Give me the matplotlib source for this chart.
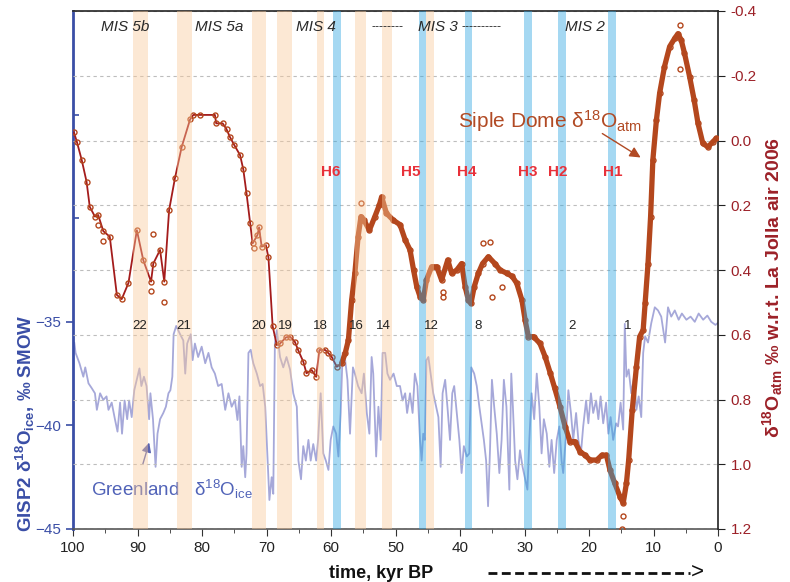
import matplotlib
matplotlib.use("Agg")
import matplotlib.pyplot as plt
import numpy as np
from matplotlib.lines import Line2D

plt.rcParams['font.family'] = ['Liberation Sans', 'DejaVu Sans']
plt.rcParams['mathtext.fontset'] = 'custom'
plt.rcParams['mathtext.rm'] = 'Liberation Sans'
plt.rcParams['mathtext.it'] = 'Liberation Sans:italic'
plt.rcParams['mathtext.bf'] = 'Liberation Sans:bold'

# ---------------- data ----------------
# Greenland GISP2 d18O ice (permil SMOW): time (kyr BP), value
gisp_t = [100, 99.8, 99.6, 99.0, 98.4, 98.1, 97.6, 97.1, 96.6, 96.3, 95.8, 95.3, 94.8, 94.5, 94.0,
          93.5, 93.1, 92.7, 92.4, 92.0, 91.6, 91.3, 90.9, 90.5, 90.0, 89.7, 89.4, 89.0, 88.6, 88.2,
          88.0, 87.6, 87.2, 86.9, 86.5, 86.0, 85.6, 85.2, 84.9, 84.6, 84.4, 84.0, 83.4, 82.9, 82.6,
          82.3, 81.75, 81.45, 81.1, 80.6, 80.05, 79.5, 79.0, 78.5, 78.0, 77.5, 76.95, 76.4, 75.9, 75.4,
          74.9, 74.5, 74.2, 73.85, 73.6, 73.3, 73.1, 72.8, 72.45, 72.05, 71.5, 71.0, 70.6, 70.2, 69.9,
          69.55, 69.2, 68.95, 68.7, 68.4, 67.9, 67.4, 66.9, 66.35, 65.85, 65.3, 65.05, 64.65, 64.3, 63.9,
          63.5, 63.15, 62.75, 62.3, 62.0, 61.6, 61.2, 60.8, 60.4, 60.05, 59.65, 59.2, 58.85, 58.5, 58.2,
          57.8, 57.45, 57.05, 56.6, 56.3, 55.8, 55.25, 54.9, 54.45, 54.05, 53.7, 53.45, 53.0, 52.65, 52.3,
          52.0, 51.6, 51.25, 50.85, 50.3, 49.8, 49.3, 48.9, 48.5, 48.2, 47.75, 47.35, 47.0, 46.6, 46.2,
          45.95, 45.7, 45.45, 45.2, 44.9, 44.55, 44.15, 43.7, 43.35, 43.0, 42.7, 42.3, 41.95, 41.55, 41.2,
          40.9, 40.5, 40.1, 39.75, 39.4, 38.95, 38.55, 38.25, 37.8, 37.4, 37.0, 36.65, 36.3, 35.95, 35.65,
          35.35, 35.05, 34.7, 34.3, 33.9, 33.55, 33.2, 32.8, 32.35, 32.05, 31.8, 31.45, 31.1, 30.7, 30.3,
          29.9, 29.55, 29.25, 28.9, 28.5, 28.1, 27.7, 27.35, 27.0, 26.55, 26.15, 25.8, 25.4, 25.0, 24.6,
          24.25, 24.0, 23.55, 23.2, 22.8, 22.45, 22.0, 21.65, 21.25, 20.9, 20.45, 20.1, 19.7, 19.35, 18.9,
          18.55, 18.2, 17.8, 17.35, 17.0, 16.65, 16.25, 15.8, 15.5, 15.1, 14.7, 14.45, 14.2, 13.85, 13.45,
          13.0, 12.65, 12.3, 11.9, 11.6, 11.3, 10.85, 10.35, 9.8, 9.3, 8.8, 8.2, 7.75, 7.25, 6.7,
          6.1, 5.6, 4.9, 4.25, 3.6, 3.0, 2.3, 1.65, 1.05, 0.4, 0.0]
gisp_v = [-36.2, -36.0, -36.5, -37.0, -37.65, -37.2, -37.97, -38.2, -38.45, -39.25, -38.45, -38.77, -38.6, -39.25, -38.9,
          -39.7, -40.3, -38.9, -40.4, -38.8, -39.7, -38.8, -39.6, -38.3, -37.65, -37.25, -38.1, -37.65, -38.1, -39.7,
          -38.45, -39.7, -42.0, -40.4, -39.7, -39.4, -39.1, -38.45, -38.3, -37.65, -35.6, -35.2, -35.6, -35.9, -37.5,
          -36.05, -35.6, -36.85, -36.05, -36.7, -36.2, -37.0, -36.5, -37.2, -37.5, -38.1, -38.0, -39.25, -38.45, -39.1,
          -38.77, -39.74, -38.6, -42.0, -41.0, -42.5, -41.35, -36.5, -36.35, -37.0, -37.5, -38.1, -38.0, -39.1, -41.2,
          -43.6, -42.5, -43.3, -36.05, -35.4, -36.7, -37.2, -36.7, -37.3, -38.45, -39.1, -41.7, -42.6, -41.0, -41.7,
          -40.7, -41.7, -40.9, -41.7, -40.7, -38.45, -41.35, -41.7, -42.15, -40.7, -40.05, -40.4, -41.5, -39.4, -36.5,
          -36.85, -37.8, -40.4, -37.2, -37.5, -38.1, -38.45, -37.5, -39.4, -40.4, -36.7, -37.5, -41.5, -39.1, -40.7,
          -36.5, -36.5, -37.5, -37.8, -37.5, -38.1, -38.1, -38.8, -38.45, -39.4, -38.45, -39.4, -37.5, -38.1, -40.7,
          -41.7, -40.4, -40.7, -36.85, -36.7, -37.5, -38.45, -39.1, -39.6, -42.0, -38.45, -37.8, -39.1, -40.7, -38.45,
          -38.1, -39.4, -40.7, -42.3, -41.0, -41.5, -41.35, -37.2, -37.5, -38.1, -39.1, -39.9, -40.7, -41.7, -43.9,
          -41.2, -37.8, -39.1, -40.4, -42.3, -40.7, -37.8, -39.1, -43.1, -37.5, -39.1, -41.7, -42.6, -41.2, -42.0,
          -42.6, -43.1, -40.7, -38.45, -39.7, -37.5, -39.1, -41.35, -39.7, -40.4, -42.0, -40.7, -42.3, -40.7, -40.05,
          -41.7, -42.3, -40.4, -38.3, -39.4, -40.7, -39.4, -40.7, -41.35, -40.05, -38.8, -39.9, -38.45, -39.4, -38.8,
          -39.7, -38.6, -39.9, -38.9, -40.4, -39.6, -40.7, -39.9, -40.05, -38.9, -40.2, -35.1, -37.65, -37.3, -38.45,
          -37.65, -39.25, -38.6, -39.6, -36.5, -35.7, -36.0, -35.07, -34.3, -34.45, -34.75, -36.0, -34.3, -34.75, -34.45,
          -34.9, -34.6, -34.9, -34.75, -35.0, -34.6, -34.9, -34.7, -35.0, -35.15, -35.05]

# Siple Dome d18O atm (permil w.r.t. La Jolla air 2006)
siple_t = [99.85, 99.4, 98.65, 97.9, 97.4, 96.6, 96.1, 95.3, 94.3, 93.2, 92.45, 91.4, 90.1, 89.1, 87.9,
           87.55, 86.5, 85.85, 85.1, 84.2, 83.15, 81.85, 81.35, 80.3, 78.0, 77.8, 76.8, 76.2, 75.7, 75.0,
           74.1, 73.6, 73.1, 72.55, 72.15, 71.4, 71.15, 70.75, 70.1, 69.7, 69.05, 68.4, 67.9, 66.97, 66.35,
           65.6, 65.1, 64.3, 63.8, 63.0, 62.3, 61.8, 60.9, 60.4, 59.9, 59.1, 58.35, 57.8, 57.3, 56.8,
           56.3, 55.8, 55.35, 54.9, 54.05, 53.2, 52.5, 52.15, 51.4, 50.35, 49.3, 48.5, 47.75, 47.2, 46.7,
           46.2, 45.7, 45.2, 44.4, 43.6, 42.85, 41.9, 41.3, 40.5, 39.75, 39.2, 38.7, 38.3, 37.8, 37.15,
           36.5, 35.6, 34.6, 33.8, 32.75, 31.9, 31.2, 30.4, 29.9, 29.4, 28.6, 27.6, 26.8, 26.0, 25.3,
           24.5, 23.7, 22.95, 22.2, 21.4, 20.6, 19.85, 18.8, 18.0, 17.3, 16.75, 16.0, 15.2, 14.7, 14.2,
           13.85, 13.3, 12.65, 12.15, 11.6, 11.3, 10.85, 10.45, 10.1, 9.55, 9.05, 8.3, 7.5, 6.7, 6.2,
           5.7, 5.2, 4.4, 3.7, 3.1, 2.35, 1.55, 0.8, 0.25]
siple_v = [-0.025, 0.004, 0.06, 0.127, 0.205, 0.235, 0.23, 0.28, 0.297, 0.477, 0.49, 0.44, 0.277, 0.37, 0.436,
           0.38, 0.338, 0.436, 0.215, 0.117, 0.02, -0.065, -0.079, -0.079, -0.079, -0.053, -0.053, -0.035, -0.012, 0.014,
           0.045, 0.089, 0.163, 0.254, 0.318, 0.292, 0.268, 0.328, 0.323, 0.361, 0.573, 0.632, 0.627, 0.608, 0.606,
           0.622, 0.647, 0.683, 0.719, 0.709, 0.73, 0.647, 0.647, 0.657, 0.668, 0.699, 0.688, 0.657, 0.616, 0.493,
           0.41, 0.297, 0.235, 0.246, 0.277, 0.235, 0.199, 0.174, 0.225, 0.246, 0.26, 0.307, 0.338, 0.4, 0.452,
           0.482, 0.493, 0.431, 0.39, 0.39, 0.431, 0.369, 0.41, 0.4, 0.38, 0.452, 0.493, 0.503, 0.452, 0.41,
           0.38, 0.359, 0.38, 0.4, 0.41, 0.42, 0.441, 0.493, 0.555, 0.606, 0.606, 0.627, 0.668, 0.719, 0.766,
           0.822, 0.884, 0.93, 0.93, 0.961, 0.972, 0.987, 0.987, 0.972, 0.972, 1.018, 1.059, 1.1, 1.12, 1.059,
           0.987, 0.833, 0.699, 0.606, 0.585, 0.503, 0.38, 0.235, 0.06, -0.063, -0.146, -0.228, -0.29, -0.316, -0.33,
           -0.31, -0.27, -0.197, -0.125, -0.053, 0.009, 0.02, 0.004, -0.007]
# scattered individual Siple Dome measurements off the main trace
siple_out_t = [96.1, 95.3, 87.9, 87.55, 85.85, 72.0, 55.35, 42.6, 42.6, 36.4, 35.35, 35.05, 33.5, 14.8, 14.85, 5.95, 5.95]
siple_out_v = [0.26, 0.31, 0.465, 0.29, 0.498, 0.333, 0.192, 0.467, 0.483, 0.318, 0.313, 0.483, 0.452, 1.16, 1.2, -0.357, -0.22]

# interstadial (orange) and Heinrich (blue) bands: start, end (kyr BP)
orange_start = [90.7, 83.8, 72.3, 68.3, 62.1, 56.3, 52.1, 45.3]
orange_end = [88.4, 81.6, 70.1, 66.05, 61.1, 54.5, 50.6, 44.1]
blue_start = [59.65, 46.3, 39.3, 30.1, 24.8, 17.0]
blue_end = [58.5, 45.3, 38.2, 28.9, 23.6, 15.8]
heinrich_labels = ['H6', 'H5', 'H4', 'H3', 'H2', 'H1']
heinrich_x = [60.0, 47.6, 38.9, 29.5, 24.8, 16.3]
do_labels = ['22', '21', '20', '19', '18', '16', '14', '12', '8', '2', '1']
do_x = [89.6, 82.9, 71.2, 67.1, 61.7, 56.0, 51.9, 44.5, 37.2, 22.6, 14.0]
mis_labels = ['MIS 5b', 'MIS 5a', 'MIS 4', 'MIS 3', 'MIS 2']
mis_x = [91.9, 77.4, 62.3, 43.4, 20.6]

xticks = [100, 90, 80, 70, 60, 50, 40, 30, 20, 10, 0]
left_ticks = [-45, -40, -35]
right_ticks = [-0.4, -0.2, 0.0, 0.2, 0.4, 0.6, 0.8, 1.0, 1.2]
right_ticklabels = ['-0.4', '-0.2', '0.0', '0.2', '0.4', '0.6', '0.8', '1.0', '1.2']

# ---------------- figure ----------------
W, H = 790, 582
fig = plt.figure(figsize=(W / 100, H / 100), dpi=100)
ax = fig.add_axes([73 / W, 53 / H, 645 / W, 518 / H])
ax.set_xlim(100, 0)
ax.set_ylim(-45, -20)
ax2 = ax.twinx()
ax2.set_ylim(1.2, -0.4)

blue_lab = '#3a4ea6'
red_lab = '#9c2128'

# Greenland curve
ax.plot(gisp_t, gisp_v, color='#6b6fc0', alpha=0.6, lw=1.3, zorder=2)

# grid on right axis
ax2.set_axisbelow(True)
ax2.yaxis.grid(True, ls=(0, (3, 3)), color='#bdbdbd', lw=0.8)

st = np.array(siple_t)
sv = np.array(siple_v)
dense = st <= 58.6
ax2.plot(st, sv, color='#a41c1c', lw=1.3, zorder=3)
ax2.plot(st[dense], sv[dense], color='#b4471d', lw=3.8, zorder=3, solid_capstyle='round')
ax2.plot(st, sv, ls='none', marker='o', ms=3.6, mfc='none', mec='#b4471d', mew=1.0, zorder=4)
ax2.plot(siple_out_t, siple_out_v, ls='none', marker='o', ms=3.6, mfc='none', mec='#b4471d', mew=1.0, zorder=4)

# bands on top, semi-transparent
for a, b in zip(orange_start, orange_end):
    ax2.axvspan(a, b, color='#fac99a', alpha=0.42, lw=0, zorder=5)
for a, b in zip(blue_start, blue_end):
    ax2.axvspan(a, b, color='#2aa3e0', alpha=0.42, lw=0, zorder=5)

xt = ax2.get_xaxis_transform()
for lab, x in zip(heinrich_labels, heinrich_x):
    ax2.text(x, 0.689, lab, transform=xt, ha='center', va='center', color='#e8313a',
             fontsize=11, fontweight='bold', zorder=10)
for lab, x in zip(do_labels, do_x):
    ax2.text(x, 0.3925, lab, transform=xt, ha='center', va='center', color='#222222',
             fontsize=9.5, zorder=10)
for lab, x in zip(mis_labels, mis_x):
    ax2.text(x, 0.969, lab, transform=xt, ha='center', va='center', color='#2a2a2a',
             fontsize=11, fontstyle='italic', zorder=10)
ax2.text(51.2, 0.969, '--------', transform=xt, ha='center', va='center', color='#2a2a2a', fontsize=9, zorder=10)
ax2.text(36.7, 0.969, '----------', transform=xt, ha='center', va='center', color='#2a2a2a', fontsize=9, zorder=10)

# series labels and arrows
ax2.text(40.3, -0.039, 'Siple Dome δ$^{18}$O$_{\\rm atm}$', color='#b14a24', fontsize=15,
         ha='left', va='baseline', zorder=10)
ax2.annotate('', xy=(11.63, 0.057), xytext=(18.3, -0.026),
             arrowprops=dict(arrowstyle='-|>', color='#b14a24', lw=1.0, mutation_scale=16), zorder=10)
ax.text(97.2, -43.1, 'Greenland   δ$^{18}$O$_{\\rm ice}$', color='#5163b8', fontsize=13.5,
        ha='left', va='center', zorder=10)
ax.annotate('', xy=(88.06, -40.7), xytext=(89.3, -42.0),
            arrowprops=dict(arrowstyle='-|>', color='#5a63b0', lw=1.0, mutation_scale=14), zorder=10)

# axes styling
ax.set_xticks(xticks)
ax.set_xticks(np.arange(0, 101, 5), minor=True)
ax.tick_params(axis='x', which='major', direction='out', length=5, labelsize=11,
               labelcolor='#222222', color='#333333', pad=4)
ax.tick_params(axis='x', which='minor', direction='out', length=3, color='#333333')
ax.set_yticks(left_ticks)
ax.set_yticks([-30, -25], minor=True)
ax.tick_params(axis='y', which='major', direction='out', length=5, labelsize=11,
               labelcolor=blue_lab, color=blue_lab, width=1.2)
ax.tick_params(axis='y', which='minor', direction='in', length=4, color=blue_lab, width=1.2)
ax2.set_yticks(right_ticks)
ax2.set_yticklabels(right_ticklabels)
ax2.tick_params(axis='y', direction='out', length=5, labelsize=11, labelcolor=red_lab,
                color='#222222', pad=4)

ax.spines['right'].set_visible(False)
ax2.spines['left'].set_visible(False)
ax2.spines['bottom'].set_visible(False)
ax.spines['left'].set_color(blue_lab)
ax.spines['left'].set_linewidth(2.0)
ax.spines['bottom'].set_color('#555555')
ax.spines['bottom'].set_linewidth(1.2)
ax2.spines['top'].set_color('#222222')
ax2.spines['top'].set_linewidth(1.2)
ax.spines['top'].set_visible(False)
ax2.spines['right'].set_color('#222222')
ax2.spines['right'].set_linewidth(1.2)

# axis labels
fig.text(25 / W, 1 - 423 / H,
         'GISP2 δ$^{\\mathbf{18}}$O$_{\\mathbf{ice}}$, ‰ SMOW', rotation=90, ha='center', va='center',
         color=blue_lab, fontsize=13.5, fontweight='bold')
fig.text(773 / W, 1 - 287 / H,
         'δ$^{\\mathbf{18}}$O$_{\\mathbf{atm}}$ ‰ w.r.t. La Jolla air 2006', rotation=90, ha='center',
         va='center', color=red_lab, fontsize=14, fontweight='bold')
fig.text(381 / W, 1 - 573 / H, 'time, kyr BP', ha='center', va='center', fontsize=13,
         fontweight='bold', color='#111111')
fig.add_artist(Line2D([488 / W, 690 / W], [1 - 573 / H, 1 - 573 / H], transform=fig.transFigure,
                      color='#111111', lw=2.0, ls=(0, (3.2, 1.6))))
fig.text(697 / W, 1 - 572 / H, '>', ha='center', va='center', fontsize=16, color='#111111')

fig.savefig('out.png', dpi=100)
